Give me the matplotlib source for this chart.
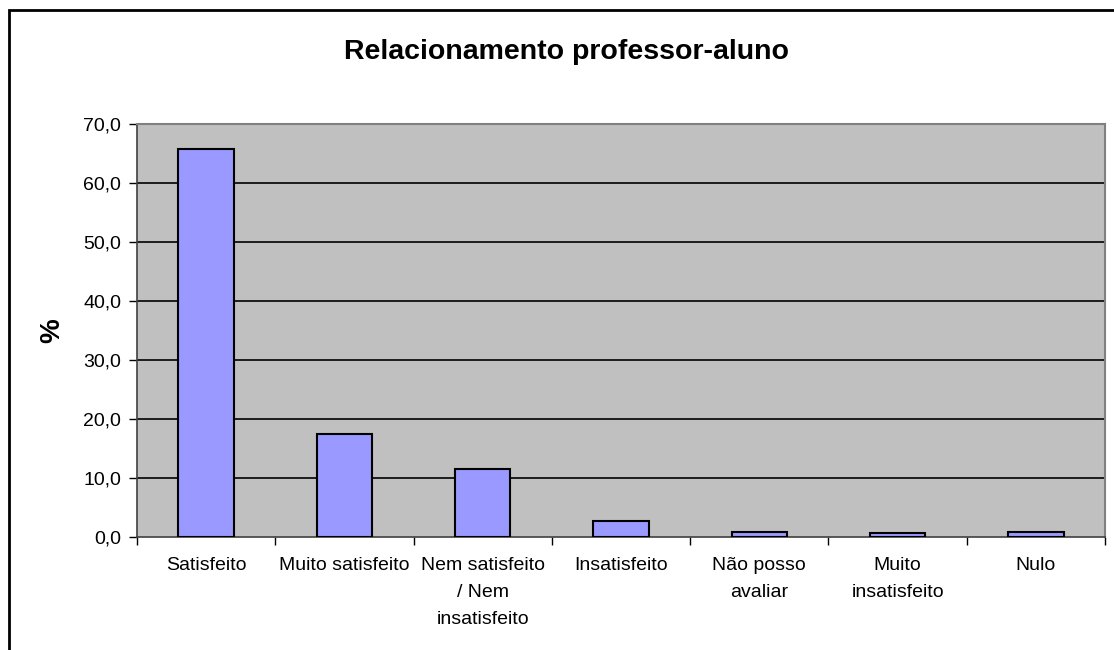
import matplotlib
matplotlib.use("Agg")
import matplotlib.pyplot as plt
from matplotlib.patches import Rectangle
import numpy as np

categories = ["Satisfeito", "Muito satisfeito", "Nem satisfeito\n/ Nem\ninsatisfeito",
              "Insatisfeito", "Não posso\navaliar", "Muito\ninsatisfeito", "Nulo"]
values = [65.7, 17.4, 11.6, 2.7, 0.9, 0.6, 0.9]
yticks = [0, 10, 20, 30, 40, 50, 60, 70]
ytick_labels = ["0,0", "10,0", "20,0", "30,0", "40,0", "50,0", "60,0", "70,0"]
title = "Relacionamento professor-aluno"
ylabel = "%"

plt.rcParams['font.family'] = ['Liberation Sans', 'DejaVu Sans']

W, H = 1114, 650
fig = plt.figure(figsize=(W / 100, H / 100), dpi=100)
fig.patch.set_facecolor("white")

# outer chart border (extends beyond right/bottom edges)
fig.patches.append(Rectangle((9 / W, -0.05), 1.2, (H - 10) / H + 0.05,
                             transform=fig.transFigure, fill=False,
                             edgecolor="black", linewidth=2))

left, right, top, bottom = 137, 1105, 124, 537
ax = fig.add_axes([left / W, 1 - bottom / H, (right - left) / W, (bottom - top) / H])
ax.set_facecolor("#C0C0C0")

x = np.arange(len(categories))
ax.bar(x, values, width=0.4, color="#9999FF", edgecolor="black", linewidth=1.5, zorder=3)

ax.set_xlim(-0.5, len(categories) - 0.5)
ax.set_ylim(0, 70)
ax.set_yticks(yticks)
ax.set_yticklabels(ytick_labels, fontsize=14)
for yv in yticks[1:-1]:
    ax.axhline(yv, color="black", linewidth=1.2, zorder=1)

ax.set_xticks(x)
ax.set_xticklabels(categories, fontsize=14, linespacing=1.75)
ax.tick_params(axis="x", length=0, pad=14.5)
ax.set_xticks(np.arange(-0.5, len(categories), 1), minor=True)
ax.tick_params(axis="x", which="minor", length=6, width=1, direction="out", color="black")
ax.tick_params(axis="y", length=6, width=1, direction="out", color="black", pad=5.5)

for s in ["top", "right"]:
    ax.spines[s].set_color("#808080")
    ax.spines[s].set_linewidth(1.5)
ax.spines["left"].set_color("#404040")
ax.spines["bottom"].set_color("#404040")
ax.spines["left"].set_linewidth(1.2)
ax.spines["bottom"].set_linewidth(1.2)

fig.text(566 / W, 1 - 52 / H, title, ha="center", va="center", fontsize=20.5, fontweight="bold")
fig.text(52 / W, 1 - 331 / H, ylabel, ha="center", va="center", fontsize=20,
         fontweight="bold", rotation=90)

fig.savefig("out.png", dpi=100, facecolor="white")
